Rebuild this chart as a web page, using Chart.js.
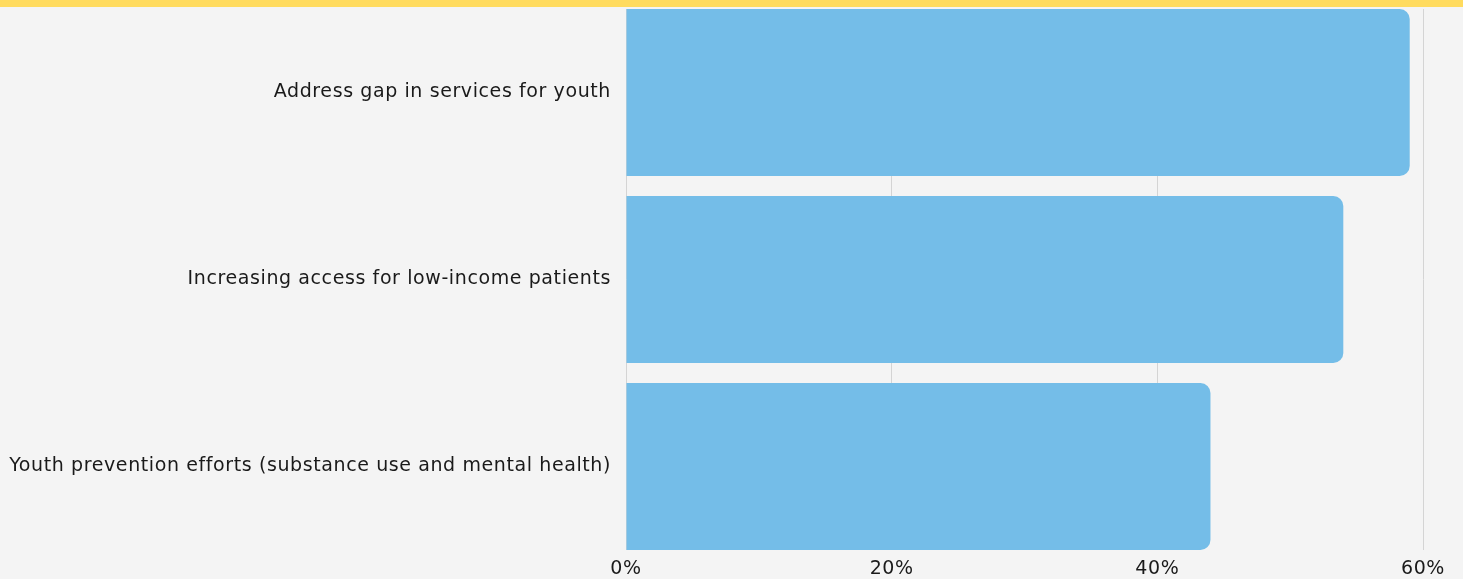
<!DOCTYPE html>
<html>
<head>
<meta charset="utf-8">
<title>Priorities</title>
<script src="https://cdn.jsdelivr.net/npm/chart.js@4"></script>
<style>
  html, body {
    margin: 0;
    padding: 0;
    background: #f4f4f4;
    width: 1463px;
    height: 579px;
    overflow: hidden;
  }
  .band {
    position: absolute;
    left: 0;
    top: 0;
    width: 1463px;
    height: 7px;
    background: #ffdb5e;
  }
  .chart-wrap {
    position: absolute;
    left: 0;
    top: 7px;
    width: 1463px;
    height: 572px;
  }
</style>
</head>
<body>
<div class="band"></div>
<div class="chart-wrap"><canvas id="chart"></canvas></div>
<script>
// categories, top to bottom
const categories = [
  'Address gap in services for youth',
  'Increasing access for low-income patients',
  'Youth prevention efforts (substance use and mental health)'
];
// share of respondents, percent
const shares = [59, 54, 44];
// x axis ticks
const xTicks = [0, 20, 40, 60];

const FONT = "'DejaVu Sans', sans-serif";
const TEXT = '#1a1a1a';

// index axis is linear so the outer bars sit flush with the plot edges
const yMin = -0.4465;
const yMax = categories.length - 1 + 0.4465;

// a little extra tracking for all chart text (canvas resets state on resize, so set it each pass)
const tracking = {
  id: 'tracking',
  beforeUpdate(chart) { chart.ctx.letterSpacing = '0.6px'; },
  beforeDraw(chart) { chart.ctx.letterSpacing = '0.6px'; }
};

const ctx = document.getElementById('chart').getContext('2d');
new Chart(ctx, {
  type: 'bar',
  plugins: [tracking],
  data: {
    datasets: [{
      data: shares.map((v, i) => ({ x: v, y: i })),
      backgroundColor: '#74bde8',
      borderWidth: 0,
      borderRadius: 10,
      categoryPercentage: 1,
      barPercentage: 0.893
    }]
  },
  options: {
    indexAxis: 'y',
    responsive: true,
    maintainAspectRatio: false,
    animation: false,
    layout: { padding: { top: 2, right: 40, left: 0, bottom: 0 } },
    plugins: {
      legend: { display: false },
      tooltip: { enabled: false }
    },
    scales: {
      x: {
        type: 'linear',
        min: 0,
        max: 60,
        afterBuildTicks: (scale) => { scale.ticks = xTicks.map(v => ({ value: v })); },
        afterFit: (scale) => { scale.height = 29; scale.paddingLeft = 0; scale.paddingRight = 0; },
        grid: { color: '#d4d4d4', lineWidth: 1, drawTicks: false },
        border: { display: false },
        ticks: {
          padding: 8,
          color: TEXT,
          font: { family: FONT, size: 19 },
          callback: (v) => v + '%'
        }
      },
      y: {
        type: 'linear',
        reverse: true,
        offset: false,
        min: yMin,
        max: yMax,
        afterBuildTicks: (scale) => { scale.ticks = categories.map((_, i) => ({ value: i })); },
        afterFit: (scale) => { scale.width = 626; scale.paddingTop = 0; scale.paddingBottom = 0; },
        grid: { display: false, offset: false, drawTicks: false },
        border: { display: false },
        ticks: {
          padding: 15,
          color: TEXT,
          font: { family: FONT, size: 19 },
          callback: (v) => categories[v]
        }
      }
    }
  }
});
</script>
</body>
</html>
